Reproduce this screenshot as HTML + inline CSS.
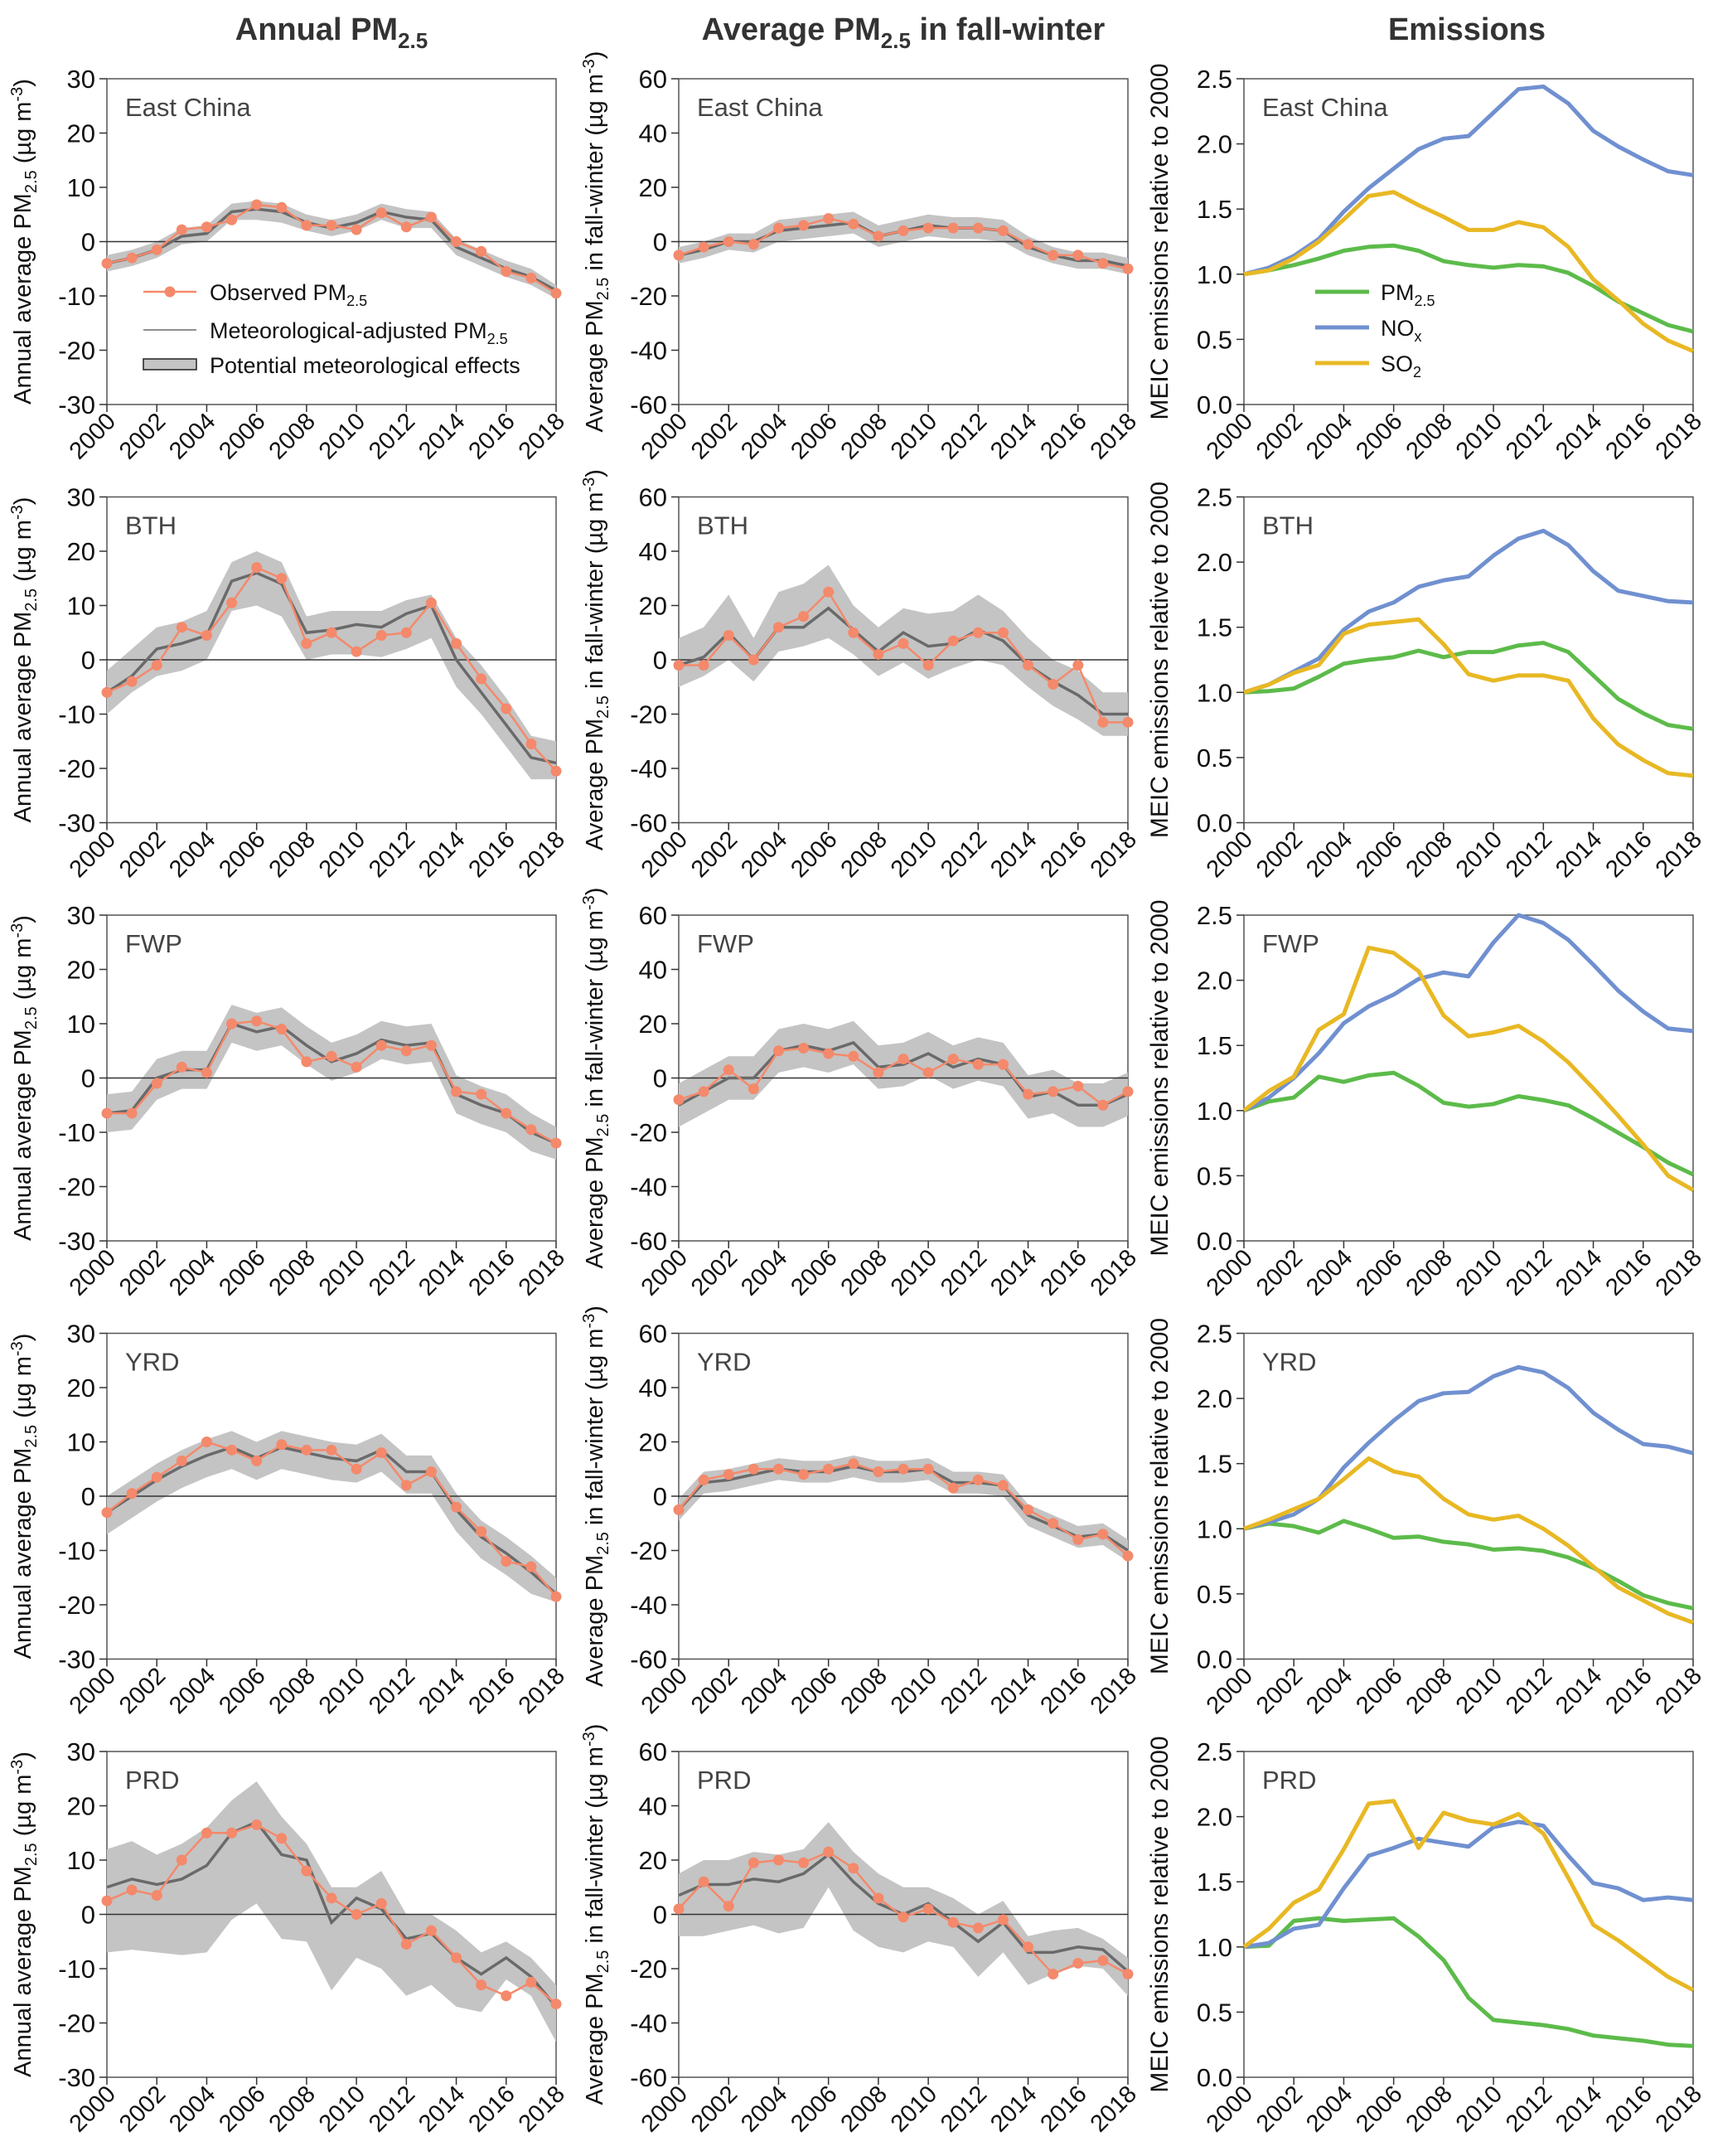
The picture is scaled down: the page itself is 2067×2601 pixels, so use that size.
<!DOCTYPE html>
<html><head><meta charset="utf-8"><style>
html,body{margin:0;padding:0;background:#fff}
svg{display:block;font-family:"Liberation Sans",Arial,sans-serif}
</style></head><body>
<svg id="fig" width="2067" height="2601" viewBox="0 0 2067 2601" xmlns="http://www.w3.org/2000/svg">
<text x="400" y="48" font-size="38" font-weight="bold" fill="#333" text-anchor="middle">Annual PM<tspan font-size="26" dy="10">2.5</tspan></text>
<text x="1090" y="48" font-size="38" font-weight="bold" fill="#333" text-anchor="middle">Average PM<tspan font-size="26" dy="10">2.5</tspan><tspan dy="-10"> in fall-winter</tspan></text>
<text x="1770" y="48" font-size="38" font-weight="bold" fill="#333" text-anchor="middle">Emissions</text>
</svg>
<script>
const years=[2000,2001,2002,2003,2004,2005,2006,2007,2008,2009,2010,2011,2012,2013,2014,2015,2016,2017,2018];
const regions=["East China","BTH","FWP","YRD","PRD"];
// Annual PM2.5 anomalies
const annObs=[
[-4,-3,-1.5,2.2,2.7,4,6.8,6.3,3,3,2.2,5.3,2.7,4.5,0,-1.8,-5.5,-6.7,-9.5],
[-6,-4,-1,6,4.5,10.5,17,15,3,5,1.5,4.5,5,10.5,3,-3.5,-9,-15.5,-20.5],
[-6.5,-6.5,-1,2,1,10,10.5,9,3,4,2,6,5,6,-2.5,-3,-6.5,-9.5,-12],
[-3,0.5,3.5,6.5,10,8.5,6.5,9.5,8.5,8.5,5,8,2,4.5,-2,-6.5,-12,-13,-18.5],
[2.5,4.5,3.5,10,15,15,16.5,14,8,3,0,2,-5.5,-3,-8,-13,-15,-12.5,-16.5]];
const annAdj=[
[-4,-3,-1.5,1,1.5,5.5,6,5.5,3.5,2.5,3.5,5.5,4.5,4,-1,-3,-5,-6.5,-9],
[-6,-3,2,3,4.5,14.5,16,14,5,5.5,6.5,6,8.5,10,0,-6,-12,-18,-19],
[-6.5,-6,0,1.5,1.5,10,8.5,9.5,6,3,4.5,7,6,6.5,-3,-5,-6.5,-10,-12],
[-3,0,3,5.5,7.5,9,7,9,8,7,6.5,8.5,4.5,4.5,-2.5,-7.5,-10.5,-14,-18],
[5,6.5,5.5,6.5,9,15,17,11,10,-1.5,3,1,-4.5,-3.5,-8,-11,-8,-11.5,-17]];
const annLow=[
[-5.5,-4.5,-3,-0.5,0,4,4,3.5,2,1,2,4,2.5,2.5,-2.5,-4.5,-6.5,-8,-10.5],
[-10,-6,-3,-2,0,9,10,8,0,1,1,0.5,2,4,-5,-10,-16,-22,-22],
[-10,-9.5,-4,-2,-2,6.5,5,6,2.5,-0.5,1,3.5,2.5,3,-6.5,-8.5,-10,-13.5,-15],
[-7,-4,-1,1.5,3.5,5,3,5,4,3,2.5,4.5,0.5,0.5,-6.5,-11.5,-14.5,-18,-19.5],
[-7,-6.5,-7,-7.5,-7,-1,2,-4.5,-5,-14,-8,-10,-15,-13,-17,-18,-12,-15,-23.5]];
const annHigh=[
[-2.5,-1.5,0,2.5,3,7,7.5,7,5,4,5,7,6,5.5,0.5,-1.5,-3.5,-5,-8],
[-2,2,6,7,9,18,20,18,8,9,9,9,11,12,4,-1,-7,-14,-15],
[-3,-2.5,3.5,5,5,13.5,12,13,9.5,6.5,8,10.5,9.5,10,0.5,-1.5,-3,-6.5,-9],
[0,3,6,8.5,10.5,12,10,12,11,10,9.5,11.5,7.5,7.5,0.5,-4.5,-7.5,-11,-15],
[12,13.5,11,13,16,21,24.5,18,13,5,5,8,0,0,-3,-7,-5,-8,-13]];
// Fall-winter PM2.5 anomalies
const fwObs=[
[-5,-2,0,-1,5,6,8.5,6.5,2,4,5,5,5,4,-1,-5,-5,-8,-10],
[-2,-2,9,0,12,16,25,10,2,6,-2,7,10,10,-2,-9,-2,-23,-23],
[-8,-5,3,-4,10,11,9,8,2,7,2,7,5,5,-6,-5,-3,-10,-5],
[-5,6,8,10,10,8,10,12,9,10,10,3,6,4,-5,-10,-16,-14,-22],
[2,12,3,19,20,19,23,17,6,-1,2,-3,-5,-2,-12,-22,-18,-17,-22]];
const fwAdj=[
[-5,-3,0,0,4,5,6,7,2,4,6,5,5,4,-2,-5,-7,-7,-9],
[-2,1,10,0,12,12,19,11,3,10,5,6,11,7,-2,-8,-13,-20,-20],
[-10,-5,0,0,10,12,10,13,4,5,9,4,7,5,-7,-5,-10,-10,-6],
[-5,5,6,8,10,9,9,11,9,9,10,5,5,4,-7,-11,-15,-14,-20],
[7,11,11,13,12,15,22,12,4,0,4,-3,-10,-3,-14,-14,-12,-13,-21]];
const fwLow=[
[-8,-6,-3,-4,0,1,2,3,-2,0,2,1,1,0,-5,-8,-10,-10,-12],
[-10,-6,0,-8,3,5,8,2,-6,-1,-7,-3,0,-2,-10,-17,-22,-28,-28],
[-18,-13,-8,-8,2,4,2,5,-4,-3,1,-4,-1,-3,-15,-13,-18,-18,-14],
[-9,1,2,4,6,5,5,7,5,5,6,1,1,0,-11,-15,-19,-18,-24],
[-8,-8,-6,-4,-7,-5,10,-6,-12,-14,-10,-12,-23,-14,-26,-22,-19,-20,-30]];
const fwHigh=[
[-2,0,3,3,8,9,10,11,6,8,10,9,9,8,2,-2,-4,-4,-6],
[8,12,24,8,25,28,35,20,12,19,17,18,24,18,8,0,-4,-12,-12],
[-2,3,8,8,18,20,18,21,12,13,17,12,15,13,1,3,-2,-2,2],
[-1,9,10,12,14,13,13,15,13,13,14,9,9,8,-3,-7,-11,-10,-16],
[15,20,20,23,22,24,34,23,15,10,10,6,0,5,-8,-6,-5,-9,-16]];
// MEIC emissions relative to 2000
const emPM=[
[1,1.03,1.07,1.12,1.18,1.21,1.22,1.18,1.1,1.07,1.05,1.07,1.06,1.01,0.91,0.79,0.7,0.61,0.56],
[1,1.01,1.03,1.12,1.22,1.25,1.27,1.32,1.27,1.31,1.31,1.36,1.38,1.31,1.13,0.95,0.84,0.75,0.72],
[1,1.07,1.1,1.26,1.22,1.27,1.29,1.19,1.06,1.03,1.05,1.11,1.08,1.04,0.94,0.83,0.72,0.6,0.51],
[1,1.04,1.02,0.97,1.06,1.0,0.93,0.94,0.9,0.88,0.84,0.85,0.83,0.78,0.7,0.6,0.49,0.43,0.39],
[1,1.01,1.2,1.22,1.2,1.21,1.22,1.08,0.9,0.61,0.44,0.42,0.4,0.37,0.32,0.3,0.28,0.25,0.24]];
const emNOx=[
[1,1.05,1.14,1.27,1.48,1.66,1.81,1.96,2.04,2.06,2.24,2.42,2.44,2.31,2.1,1.98,1.88,1.79,1.76],
[1,1.06,1.16,1.26,1.48,1.62,1.69,1.81,1.86,1.89,2.05,2.18,2.24,2.13,1.93,1.78,1.74,1.7,1.69],
[1,1.1,1.25,1.44,1.67,1.8,1.89,2.01,2.06,2.03,2.29,2.5,2.44,2.31,2.12,1.92,1.76,1.63,1.61],
[1,1.05,1.11,1.23,1.47,1.66,1.83,1.98,2.04,2.05,2.17,2.24,2.2,2.08,1.89,1.76,1.65,1.63,1.58],
[1,1.03,1.14,1.17,1.45,1.7,1.76,1.83,1.8,1.77,1.92,1.96,1.93,1.7,1.49,1.45,1.36,1.38,1.36]];
const emSO2=[
[1,1.03,1.12,1.25,1.42,1.6,1.63,1.53,1.44,1.34,1.34,1.4,1.36,1.21,0.96,0.8,0.62,0.49,0.41],
[1,1.06,1.15,1.21,1.45,1.52,1.54,1.56,1.37,1.14,1.09,1.13,1.13,1.09,0.8,0.6,0.48,0.38,0.36],
[1,1.15,1.26,1.62,1.74,2.25,2.21,2.07,1.73,1.57,1.6,1.65,1.53,1.37,1.17,0.96,0.74,0.5,0.39],
[1,1.07,1.15,1.23,1.38,1.54,1.44,1.4,1.23,1.11,1.07,1.1,1.0,0.87,0.71,0.55,0.45,0.35,0.28],
[1,1.14,1.34,1.44,1.75,2.1,2.12,1.76,2.03,1.97,1.94,2.02,1.87,1.53,1.17,1.05,0.91,0.77,0.67]];
const annTicks=[-30,-20,-10,0,10,20,30];
const fwTicks=[-60,-40,-20,0,20,40,60];
const emTicks=[0,0.5,1,1.5,2,2.5];
const emTickLabels=["0.0","0.5","1.0","1.5","2.0","2.5"];
const xTickYears=[2000,2002,2004,2006,2008,2010,2012,2014,2016,2018];

const NS="http://www.w3.org/2000/svg";
const svg=document.getElementById('fig');
function mk(tag,attrs,parent){const e=document.createElementNS(NS,tag);for(const k in attrs)e.setAttribute(k,attrs[k]);(parent||svg).appendChild(e);return e;}
const colL=[129,819,1501],PW=542,PH=393,rowTop0=95,rowPitch=504.5;
const slug=s=>s.toLowerCase().replace(/\s+/g,'-');

function panel(col,row){
  const L=colL[col],T=rowTop0+row*rowPitch,B=T+PH,R=L+PW;
  let ymin,ymax,ticks,labels;
  if(col===0){ymin=-30;ymax=30;ticks=annTicks;labels=annTicks.map(String);}
  else if(col===1){ymin=-60;ymax=60;ticks=fwTicks;labels=fwTicks.map(String);}
  else {ymin=0;ymax=2.5;ticks=emTicks;labels=emTickLabels;}
  const xs=yr=>L+(yr-2000)/18*PW;
  const ys=v=>B-(v-ymin)/(ymax-ymin)*PH;
  const g=mk('g',{});
  
  
  // frame
  const fr=mk('rect',{x:L,y:T,width:PW,height:PH,fill:'none',stroke:'#555','stroke-width':1.5},g);
  
  
  // y ticks
  ticks.forEach((t,i)=>{
    mk('line',{x1:L-9,x2:L,y1:ys(t),y2:ys(t),stroke:'#333','stroke-width':1.5},g);
    const tx=mk('text',{x:L-14,y:ys(t)+11,'font-size':31,'text-anchor':'end',fill:'#111'},g);
    tx.textContent=labels[i];
    
    
  });
  // x ticks
  xTickYears.forEach(yr=>{
    mk('line',{x1:xs(yr),x2:xs(yr),y1:B,y2:B+9,stroke:'#333','stroke-width':1.5},g);
    const tx=mk('text',{x:xs(yr)+12,y:B+22,'font-size':29,'text-anchor':'end',fill:'#111',transform:`rotate(-45 ${xs(yr)+12} ${B+22})`},g);
    tx.textContent=String(yr);
    
    
  });
  // region label
  const rl=mk('text',{x:L+22,y:T+45,'font-size':31,fill:'#444'},g);
  rl.textContent=regions[row];
  
  
  // y axis title
  const cx=L-92,cy=T+PH/2;
  const yt=mk('text',{x:cx,y:cy,'font-size':col===2?30:29,'text-anchor':'middle',fill:'#111',transform:`rotate(-90 ${cx} ${cy})`},g);
  
  
  if(col===0){yt.innerHTML='Annual average PM<tspan font-size="20" dy="7">2.5</tspan><tspan dy="-7">  (µg m</tspan><tspan font-size="20" dy="-10">-3</tspan><tspan dy="10">)</tspan>';}
  else if(col===1){yt.innerHTML='Average PM<tspan font-size="20" dy="7">2.5</tspan><tspan dy="-7"> in fall-winter (µg m</tspan><tspan font-size="20" dy="-10">-3</tspan><tspan dy="10">)</tspan>';}
  else yt.textContent='MEIC emissions relative to 2000';

  if(col<2){
    const obs=col===0?annObs[row]:fwObs[row], adj=col===0?annAdj[row]:fwAdj[row];
    const lo=col===0?annLow[row]:fwLow[row], hi=col===0?annHigh[row]:fwHigh[row];
    let d='';years.forEach((y,i)=>{d+=(i?'L':'M')+xs(y)+','+ys(hi[i]);});
    for(let i=years.length-1;i>=0;i--)d+='L'+xs(years[i])+','+ys(lo[i]);
    const band=mk('path',{d:d+'Z',fill:'#c4c4c4',stroke:'none'},g);
    
    
    const zl=mk('line',{x1:L,x2:R,y1:ys(0),y2:ys(0),stroke:'#333','stroke-width':1.5},g);
    
    
    const al=mk('polyline',{points:years.map((y,i)=>xs(y)+','+ys(adj[i])).join(' '),fill:'none',stroke:'#6a6a6a','stroke-width':3.5},g);
    
    
    const ol=mk('polyline',{points:years.map((y,i)=>xs(y)+','+ys(obs[i])).join(' '),fill:'none',stroke:'#f4896b','stroke-width':2.5},g);
    
    
    years.forEach((y,i)=>{
      const c=mk('circle',{cx:xs(y),cy:ys(obs[i]),r:6.5,fill:'#f4896b'},g);
      
      
    });
  } else {
    [[emPM,'#5cbb4a','pm25'],[emNOx,'#7090d0','nox'],[emSO2,'#e8b824','so2']].forEach(([arr,colr,n])=>{
      const pl=mk('polyline',{points:years.map((y,i)=>xs(y)+','+ys(arr[row][i])).join(' '),fill:'none',stroke:colr,'stroke-width':5,'stroke-linejoin':'round'},g);
      
      
    });
  }
}
for(let r=0;r<5;r++)for(let c=0;c<3;c++)panel(c,r);

// legends
const lg=mk('g',{});


mk('line',{x1:173,x2:237,y1:352,y2:352,stroke:'#f4896b','stroke-width':2.5},lg);
mk('circle',{cx:205,cy:352,r:6.5,fill:'#f4896b'},lg);
mk('line',{x1:173,x2:237,y1:398,y2:398,stroke:'#6a6a6a','stroke-width':1.5},lg);
mk('rect',{x:173,y:433,width:64,height:13,fill:'#c4c4c4',stroke:'#222','stroke-width':1.5},lg);
const l1=mk('text',{x:253,y:362,'font-size':27,fill:'#111'},lg);l1.innerHTML='Observed PM<tspan font-size="18" dy="7">2.5</tspan>';
const l2=mk('text',{x:253,y:408,'font-size':27,fill:'#111'},lg);l2.innerHTML='Meteorological-adjusted PM<tspan font-size="18" dy="7">2.5</tspan>';
const l3=mk('text',{x:253,y:450,'font-size':27,fill:'#111'},lg);l3.textContent='Potential meteorological effects';

const eg=mk('g',{});


[['#5cbb4a','PM','2.5',352],['#7090d0','NO','x',395],['#e8b824','SO','2',438]].forEach(([c,t,s,y])=>{
  mk('line',{x1:1587,x2:1652,y1:y,y2:y,stroke:c,'stroke-width':5},eg);
  const tx=mk('text',{x:1666,y:y+10,'font-size':27,fill:'#111'},eg);
  tx.innerHTML=t+'<tspan font-size="18" dy="7">'+s+'</tspan>';
});
</script>
</body></html>
